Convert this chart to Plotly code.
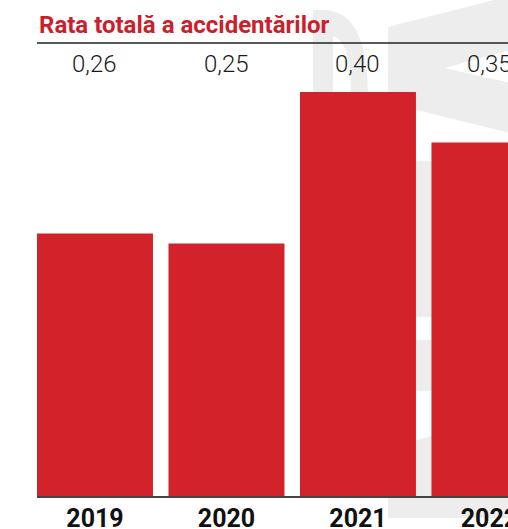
import plotly.graph_objects as go

# ---- data ----
years = ["2019", "2020", "2021", "2022"]
rates = [0.26, 0.25, 0.40, 0.35]
title_text = "Rata totală a accidentărilor"

# ---- style ----
BAR = "#d2232b"
TITLE_RED = "#cb1f2d"
WM = "#ededed"

W, H = 508, 529
L, R, T, B = 37, 0, 43, 33
PW = W - L - R
PH = H - T - B


def to_paper(x, y):
    return (x - L) / PW, (H - B - y) / PH


def make_path(cmds):
    out = []
    for c in cmds:
        op = c[0]
        pts = c[1:]
        coords = []
        for i in range(0, len(pts), 2):
            xp, yp = to_paper(pts[i], pts[i + 1])
            coords.append(f"{xp:.4f},{yp:.4f}")
        out.append(op + " ".join(coords) if op != "Z" else "Z")
    return " ".join(out)


# watermark (decorative background logo), pixel outlines
wm_paths = [
    [("M", 388, 27), ("L", 510, -4), ("L", 510, 50), ("L", 445, 68), ("L", 510, 83),
     ("L", 510, 133), ("L", 388, 103), ("Z",)],
    [("M", 388, 161), ("L", 510, 161), ("L", 510, 317), ("L", 388, 317), ("Z",)],
    [("M", 388, 340), ("L", 510, 340), ("L", 510, 391), ("L", 388, 391), ("Z",)],
    [("M", 388, 449), ("L", 510, 412), ("L", 510, 518), ("L", 388, 518), ("Z",)],
    [("M", 313, 10), ("L", 326, 10), ("C", 356, 12, 368, 45, 368, 96), ("L", 351, 96),
     ("C", 351, 60, 346, 40, 333, 36), ("L", 333, 96), ("L", 313, 96), ("Z",)],
]

shapes = []
for p in wm_paths:
    shapes.append(dict(type="path", xref="paper", yref="paper", path=make_path(p),
                       fillcolor=WM, line=dict(width=0), layer="below"))
# rule under the title
shapes.append(dict(type="line", xref="paper", yref="paper", x0=0, x1=1.01, y0=1, y1=1,
                   line=dict(color="#222222", width=1.4), layer="above"))

fig = go.Figure()
fig.add_trace(go.Bar(x=years, y=rates, marker=dict(color=BAR, line=dict(width=0)),
                     hoverinfo="skip"))

annotations = [
    dict(text=f"<b>{title_text}</b>", xref="paper", yref="paper", x=0, y=(H - B - 25) / PH,
         xanchor="left", yanchor="middle", showarrow=False,
         font=dict(family="Liberation Sans Narrow, Arial Narrow, Roboto", size=24, color=TITLE_RED)),
]
for i, v in enumerate(rates):
    annotations.append(dict(text=f"{v:.2f}".replace(".", ","), x=i, xref="x", yref="paper",
                            y=(H - B - 64) / PH, xanchor="center", yanchor="middle",
                            showarrow=False,
                            font=dict(family="Roboto", size=24, weight=300, color="#1a1a1a")))

fig.update_layout(
    width=W, height=H,
    margin=dict(l=L, r=R, t=T, b=B, pad=0),
    paper_bgcolor="white", plot_bgcolor="rgba(0,0,0,0)",
    bargap=0.118, showlegend=False,
    shapes=shapes, annotations=annotations,
    xaxis=dict(type="category", range=[-0.441, 3.141], showgrid=False, zeroline=False,
               showline=True, linecolor="#444444", linewidth=2,
               ticks="", ticklen=0, ticklabelstandoff=-1,
               tickfont=dict(family="Roboto", size=25, weight=700, color="#111111"),
               automargin=False, fixedrange=True),
    yaxis=dict(range=[0, PH / 1010], visible=False, fixedrange=True),
)

fig.write_html("out.html", config={"displayModeBar": False},
               post_script="document.body.style.margin='0';document.body.style.overflow='hidden';")
